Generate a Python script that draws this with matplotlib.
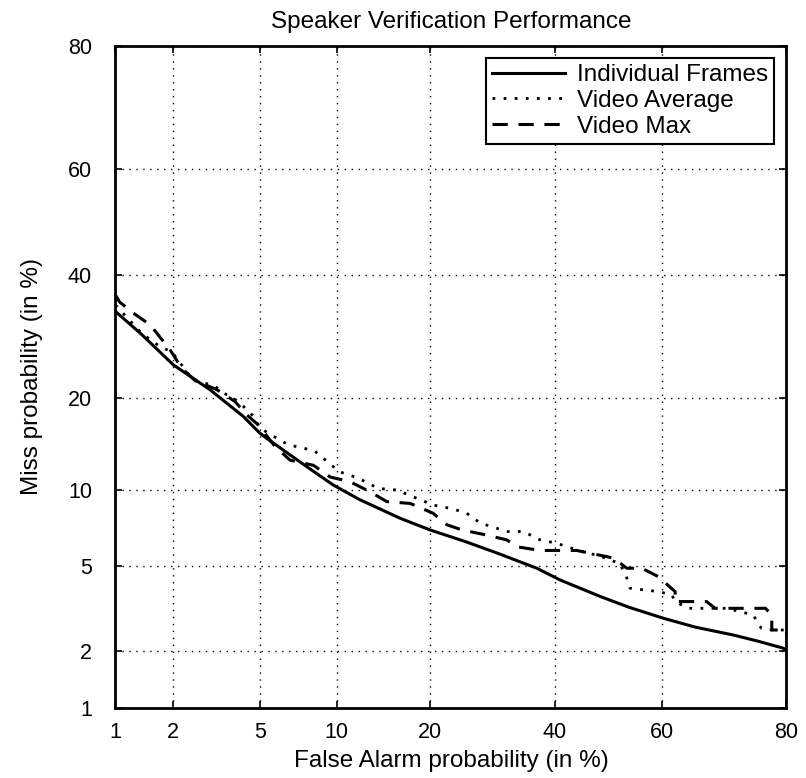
import numpy as np
import matplotlib
matplotlib.use("Agg")
import matplotlib.pyplot as plt
from statistics import NormalDist

plt.rcParams['font.family'] = ['Liberation Sans', 'DejaVu Sans']

# values in %
frames_fa = [1, 1.38, 2.0, 3.0, 4.24, 5.0, 5.35, 7.5, 9.7, 12.0, 16.3, 20.0, 25.0, 29.9, 36.8, 41.0, 48.5, 54.0, 60.3, 66.0, 72.3, 76.0, 79.5, 80]
frames_miss = [33.4, 29.5, 24.7, 21.1, 17.6, 15.6, 15.0, 12.3, 10.4, 9.2, 7.8, 7.02, 6.3, 5.66, 4.87, 4.33, 3.65, 3.25, 2.89, 2.62, 2.4, 2.24, 2.07, 2.03]

avg_fa = [1, 1.38, 1.72, 1.97, 2.5, 3.12, 3.58, 4.04, 4.7, 5.0, 6.07, 6.55, 7.62, 8.32, 9.2, 10.2, 11.9, 13.9, 15.9, 20.4,
          23.0, 25.2, 27.3, 31.6, 34.4, 37.4, 40.4, 46.0, 47.8, 52.2, 53.5, 54.1, 57.0, 59.4, 61.8, 62.4, 64.7, 67.3,
          71.2, 75.3, 76.5, 77.5, 80, 80]
avg_miss = [34.5, 29.7, 27.5, 26.7, 22.4, 21.7, 20.4, 19.5, 17.6, 16.2, 14.8, 14.3, 13.9, 13.6, 12.6, 11.6, 11.0, 10.1, 9.97, 8.77,
            8.5, 8.16, 7.47, 6.92, 6.92, 6.4, 6.2, 5.64, 5.55, 5.1, 4.41, 3.98, 3.9, 3.84, 3.71, 3.46, 3.22, 3.22,
            3.22, 3.0, 2.59, 2.54, 2.54, 2.3]

max_fa = [1, 1.05, 1.25, 1.53, 1.79, 1.93, 2.2, 2.55, 3.23, 3.9, 4.39, 5.0, 5.17, 5.79, 6.66, 8.2, 9.46, 11.1, 13.0, 14.8,
          17.5, 20.4, 22.3, 24.5, 28.1, 31.6, 33.3, 37.4, 44.1, 46.6, 49.7, 51.0, 53.5, 56.3, 59.4, 60.0, 62.4, 62.4,
          63.9, 67.9, 69.3, 72.8, 73.8, 77.1, 78.0, 78.0, 80, 80]
max_miss = [36.3, 35.1, 33.1, 31.1, 28.3, 27.0, 24.2, 22.4, 21.1, 19.5, 17.8, 16.4, 15.8, 14.1, 12.7, 12.2, 11.1, 10.7, 9.84, 9.03,
            8.89, 8.16, 7.36, 7.02, 6.71, 6.4, 6.0, 5.79, 5.79, 5.64, 5.46, 5.37, 4.87, 4.87, 4.47, 4.33, 3.84, 3.46,
            3.46, 3.46, 3.22, 3.22, 3.22, 3.22, 3.0, 2.54, 2.54, 2.4]

tick_vals = [1, 2, 5, 10, 20, 40, 60, 80]
tick_labels = ['1', '2', '5', '10', '20', '40', '60', '80']

_nd = NormalDist()
_ppf = np.vectorize(_nd.inv_cdf, otypes=[float])
_cdf = np.vectorize(_nd.cdf, otypes=[float])


def probit(p):
    p = np.clip(np.asarray(p, dtype=float) / 100.0, 1e-9, 1 - 1e-9)
    return _ppf(p)


def unprobit(z):
    return _cdf(np.asarray(z, dtype=float)) * 100.0


fig = plt.figure(figsize=(8.06, 7.78), dpi=100)
ax = fig.add_axes([0.1433, 0.0900, 0.8325, 0.8509])
ax.set_xscale('function', functions=(probit, unprobit))
ax.set_yscale('function', functions=(probit, unprobit))

ax.plot(frames_fa, frames_miss, color='black', linestyle='-', linewidth=2.2, label='Individual Frames')
ax.plot(avg_fa, avg_miss, color='black', linestyle=(0, (1, 3)), linewidth=2.0, label='Video Average')
ax.plot(max_fa, max_miss, color='black', linestyle=(0, (5, 3.5)), linewidth=2.2, label='Video Max')

ax.set_xlim(1, 80)
ax.set_ylim(1, 80)
ax.set_xticks(tick_vals)
ax.set_xticklabels(tick_labels)
ax.set_yticks(tick_vals)
ax.set_yticklabels(tick_labels)
ax.minorticks_off()
ax.tick_params(direction='in', top=True, right=True, labelsize=15.5, length=5, width=1.2)
ax.tick_params(axis='x', pad=10)
ax.tick_params(axis='y', pad=17)
ax.grid(True, color='black', linestyle=(0, (1, 4)), linewidth=1.0)
for s in ax.spines.values():
    s.set_linewidth(2.0)

ax.set_xlabel('False Alarm probability (in %)', fontsize=17.5, labelpad=5)
ax.set_ylabel('Miss probability (in %)', fontsize=17.5, labelpad=18)
ax.set_title('Speaker Verification Performance', fontsize=17.5, pad=13)

leg = ax.legend(loc='upper right', fontsize=17.5, frameon=True, fancybox=False, handlelength=3.0,
                borderaxespad=0.5, labelspacing=0.15, handletextpad=0.5, borderpad=0.25)
leg.get_frame().set_edgecolor('black')
leg.get_frame().set_linewidth(1.5)
leg.get_frame().set_alpha(1)

fig.savefig('out.png', dpi=100)
